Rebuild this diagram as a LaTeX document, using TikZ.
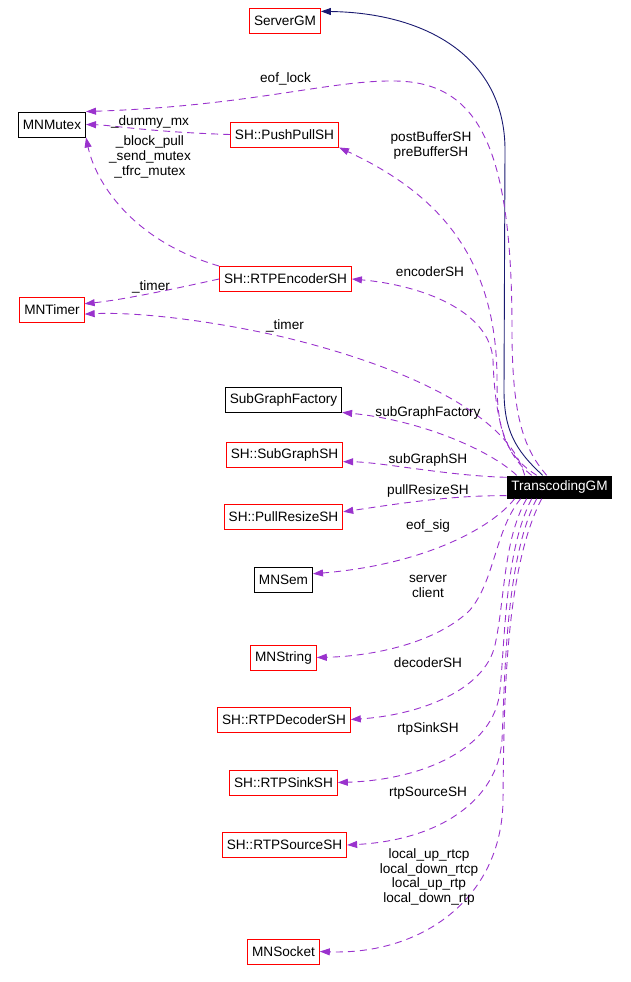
\documentclass[tikz,border=0pt]{standalone}
\usepackage{fontspec}
\setmainfont{Liberation Sans}
\usetikzlibrary{arrows.meta}
\definecolor{usecolor}{HTML}{9A32CD}
\definecolor{inhcolor}{HTML}{191970}

\begin{document}
\begin{tikzpicture}[x=1pt, y=-1pt,
    >={Triangle[length=10pt,width=7pt]},
    every node/.style={font=\fontsize{13.6}{14.7}\selectfont},
    cls/.style={draw=red, line width=0.9pt, inner xsep=4.5pt, minimum height=25pt},
    ext/.style={cls, draw=black},
    use/.style={usecolor, line width=0.9pt, dash pattern=on 7pt off 5pt, ->},
    lbl/.style={align=center, inner sep=0pt}]
  \useasboundingbox (0,0) rectangle (630,982);
  % classes
  \node[cls] (sgm) at (285,21) {ServerGM};
  \node[ext] (mutex) at (52,124.5) {MNMutex};
  \node[cls] (push) at (284.5,134.5) {SH::PushPullSH};
  \node[cls] (enc) at (285.5,279) {SH::RTPEncoderSH};
  \node[cls] (timer) at (52,309.5) {MNTimer};
  \node[ext] (sgf) at (283.5,399.5) {SubGraphFactory};
  \node[cls] (sgsh) at (284.5,454.5) {SH::SubGraphSH};
  \node[fill=black, text=white, inner xsep=4.5pt, minimum height=23pt] (tgm) at (559.5,487) {TranscodingGM};
  \node[cls] (prs) at (283.5,517) {SH::PullResizeSH};
  \node[ext] (sem) at (283.5,579.5) {MNSem};
  \node[cls] (str) at (283.5,657.5) {MNString};
  \node[cls] (dec) at (284,719.5) {SH::RTPDecoderSH};
  \node[cls] (sink) at (283.5,782.5) {SH::RTPSinkSH};
  \node[cls] (src) at (284.5,845) {SH::RTPSourceSH};
  \node[cls] (sock) at (283.5,951.5) {MNSocket};
  % inheritance
  \draw[inhcolor, line width=0.9pt, ->] ([xshift=36pt]tgm.north west)
    .. controls (515,450) and (504,430) .. (504,390) -- (505,150)
    .. controls (505,60) and (430,13) .. (sgm.15);
  % members, upper part
  \draw[use] ([xshift=40pt]tgm.north west)
    .. controls (525,450) and (512,420) .. (512,330)
    .. controls (512,150) and (480,82) .. (395,81)
    .. controls (330,80) and (250,106) .. (mutex.north east);
  \draw[use] (push.west) .. controls (150,132) and (110,125) .. (mutex.east);
  \draw[use] (enc.north west) .. controls (130,240) and (95,180) .. (mutex.south east);
  \draw[use] ([xshift=30pt]tgm.north west)
    .. controls (505,455) and (497,430) .. (497,380)
    .. controls (497,250) and (430,190) .. (push.south east);
  \draw[use] ([xshift=25pt]tgm.north west)
    .. controls (505,455) and (495,420) .. (493,360)
    .. controls (490,310) and (420,285) .. (enc.east);
  \draw[use] (enc.west) .. controls (160,292) and (120,300) .. (timer.10);
  \draw[use] ([xshift=18pt]tgm.north west)
    .. controls (510,420) and (420,370) .. (283,337)
    .. controls (200,318) and (130,312) .. (timer.-8);
  \draw[use] ([xshift=10pt]tgm.north west) .. controls (490,450) and (420,420) .. (sgf.south east);
  \draw[use] ([yshift=-2pt]tgm.north west) .. controls (450,476) and (380,462) .. (sgsh.-7);
  \draw[use] ([yshift=3pt]tgm.south west) .. controls (450,495) and (390,505) .. (prs.5);
  % members, lower part
  \draw[use] ([xshift=8pt]tgm.south west) .. controls (490,530) and (420,565) .. (sem.11);
  \draw[use] ([xshift=14pt]tgm.south west)
    .. controls (495,530) and (495,580) .. (470,610)
    .. controls (440,640) and (380,656) .. (str.east);
  \draw[use] ([xshift=20pt]tgm.south west)
    .. controls (503,540) and (505,600) .. (495,645)
    .. controls (485,690) and (420,715) .. (dec.east);
  \draw[use] ([xshift=25pt]tgm.south west)
    .. controls (505,550) and (505,640) .. (500,690)
    .. controls (495,750) and (420,780) .. (sink.east);
  \draw[use] ([xshift=30pt]tgm.south west)
    .. controls (505,560) and (505,680) .. (502,740)
    .. controls (498,800) and (440,840) .. (src.east);
  \draw[use] ([xshift=35pt]tgm.south west)
    .. controls (505,570) and (504,700) .. (503,800)
    .. controls (502,900) and (420,955) .. (sock.east);
  % edge labels
  \node[lbl] (l-eoflock) at (285.5,79) {eof\_lock};
  \node[lbl] (l-dummy) at (150,122) {\_dummy\_mx};
  \node[lbl] (l-block) at (150,157) {\_block\_pull\\\_send\_mutex\\\_tfrc\_mutex};
  \node[lbl] (l-buffer) at (431,145.5) {postBufferSH\\preBufferSH};
  \node[lbl] (l-encoder) at (430,272) {encoderSH};
  \node[lbl] (l-timera) at (151,287) {\_timer};
  \node[lbl] (l-timerb) at (285,326) {\_timer};
  \node[lbl] (l-sgf) at (428,413) {subGraphFactory};
  \node[lbl] (l-sgsh) at (428,460) {subGraphSH};
  \node[lbl] (l-prs) at (428,491) {pullResizeSH};
  \node[lbl] (l-eofsig) at (428,526) {eof\_sig};
  \node[lbl] (l-server) at (428,586.5) {server\\client};
  \node[lbl] (l-decoder) at (428,663) {decoderSH};
  \node[lbl] (l-sink) at (428,729) {rtpSinkSH};
  \node[lbl] (l-source) at (428,793) {rtpSourceSH};
  \node[lbl] (l-local) at (429,877) {local\_up\_rtcp\\local\_down\_rtcp\\local\_up\_rtp\\local\_down\_rtp};
\end{tikzpicture}
\end{document}
